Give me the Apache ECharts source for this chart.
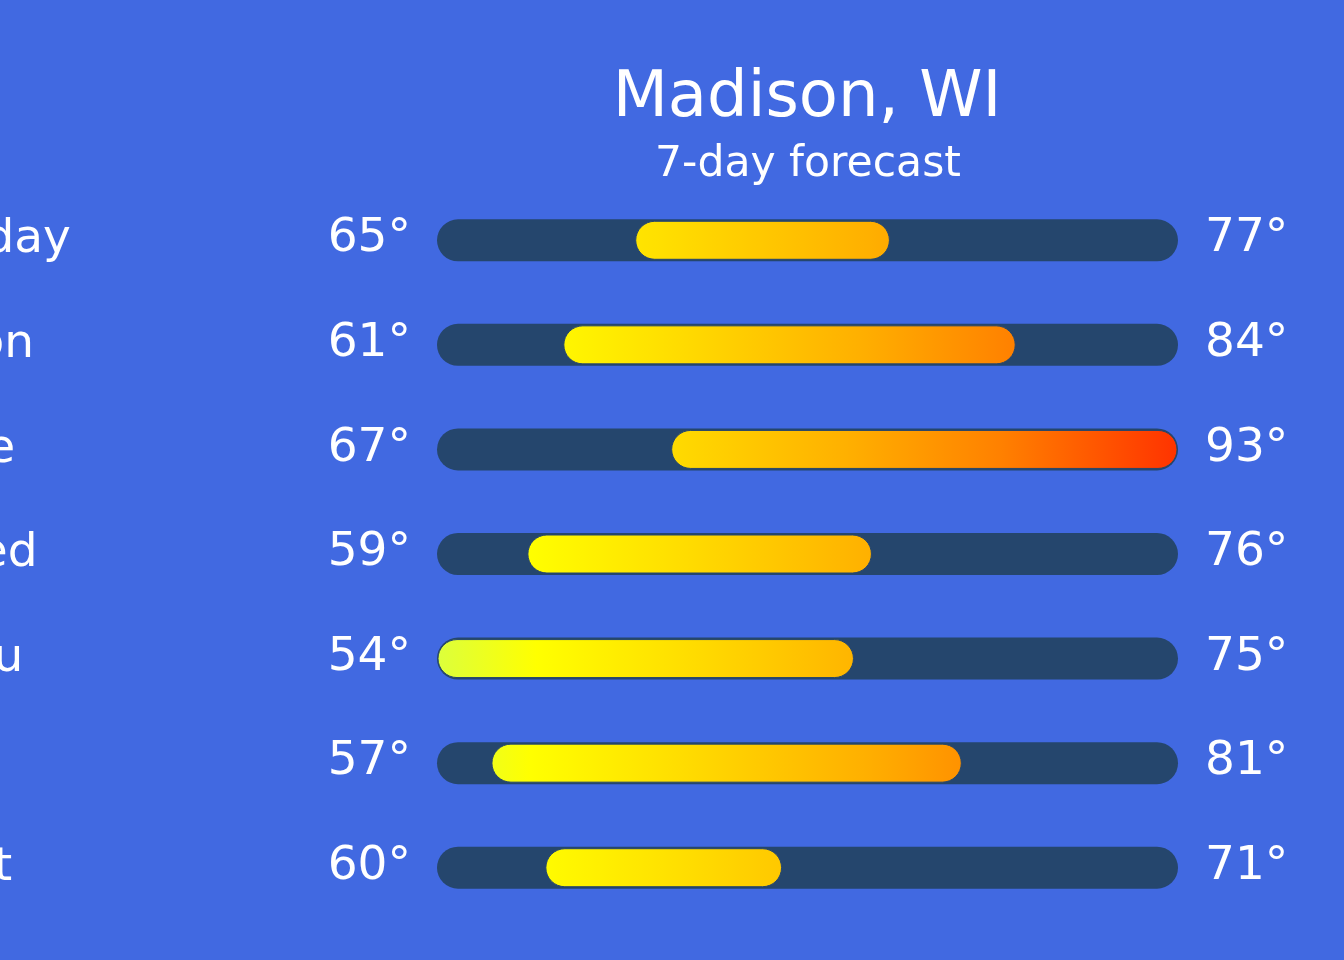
<!DOCTYPE html>
<html>
<head>
<meta charset="utf-8">
<script src="https://cdn.jsdelivr.net/npm/echarts@6/dist/echarts.min.js"></script>
<style>
  html, body { margin: 0; padding: 0; background: #4169E1; }
  #chart { width: 1344px; height: 960px; }
</style>
</head>
<body>
<div id="chart"></div>
<script>
// ---- data ----
const days = ['Today', 'Mon', 'Tue', 'Wed', 'Thu', 'Fri', 'Sat'];
const lows = [65, 61, 67, 59, 54, 57, 60];
const highs = [77, 84, 93, 76, 75, 81, 71];
const titleText = 'Madison, WI';
const subtitleText = '7-day forecast';

// colour scale (temperature -> colour)
const colorTemps = [54, 59, 66, 76, 84, 93];
const colorValues = ['#dcff3c', '#ffff00', '#ffe000', '#ffb000', '#ff8000', '#ff3300'];

const scaleMin = Math.min(...lows);
const scaleMax = Math.max(...highs);

function hexToRgb(h) {
  return [parseInt(h.slice(1, 3), 16), parseInt(h.slice(3, 5), 16), parseInt(h.slice(5, 7), 16)];
}
function colorAt(t) {
  if (t <= colorTemps[0]) return colorValues[0];
  for (let k = 1; k < colorTemps.length; k++) {
    if (t <= colorTemps[k]) {
      const f = (t - colorTemps[k - 1]) / (colorTemps[k] - colorTemps[k - 1]);
      const a = hexToRgb(colorValues[k - 1]), b = hexToRgb(colorValues[k]);
      const c = a.map((v, j) => Math.round(v + (b[j] - v) * f));
      return 'rgb(' + c.join(',') + ')';
    }
  }
  return colorValues[colorValues.length - 1];
}
function barGradient(lo, hi) {
  const stops = [{ offset: 0, color: colorAt(lo) }];
  colorTemps.forEach(t => {
    if (t > lo && t < hi) stops.push({ offset: (t - lo) / (hi - lo), color: colorAt(t) });
  });
  stops.push({ offset: 1, color: colorAt(hi) });
  return { type: 'linear', x: 0, y: 0, x2: 1, y2: 0, colorStops: stops };
}

const rows = days.map((d, i) => [i, lows[i], highs[i]]);

const FONT = 'DejaVu Sans';
const TRACK = '#25466d';

const chart = echarts.init(document.getElementById('chart'), null, { renderer: 'canvas' });
chart.setOption({
  backgroundColor: '#4169E1',
  animation: false,
  grid: { left: 457, right: 186, top: 188, bottom: 40, containLabel: false, outerBoundsMode: 'none' },
  xAxis: { type: 'value', min: scaleMin, max: scaleMax, show: false },
  yAxis: {
    type: 'category',
    data: days,
    inverse: true,
    axisLine: { show: false },
    axisTick: { show: false },
    splitLine: { show: false },
    axisLabel: {
      align: 'left',
      margin: 522,
      fontSize: 47,
      fontFamily: FONT,
      color: '#ffffff',
      padding: [0, 0, 2, 0]
    }
  },
  graphic: [
    { type: 'text', x: 807, y: 99, style: { text: titleText, fill: '#ffffff', fontSize: 64, fontFamily: FONT, align: 'center', verticalAlign: 'middle' } },
    { type: 'text', x: 808, y: 165, style: { text: subtitleText, fill: '#ffffff', fontSize: 42.5, fontFamily: FONT, align: 'center', verticalAlign: 'middle' } }
  ],
  series: [{
    type: 'custom',
    data: rows,
    encode: { x: [1, 2], y: 0 },
    renderItem: function (params, api) {
      const i = api.value(0), lo = api.value(1), hi = api.value(2);
      const pLo = api.coord([lo, i]);
      const pHi = api.coord([hi, i]);
      const pMin = api.coord([scaleMin, i]);
      const pMax = api.coord([scaleMax, i]);
      const cy = pLo[1];
      return {
        type: 'group',
        children: [
          { type: 'rect', shape: { x: pMin[0] - 20, y: cy - 21, width: pMax[0] - pMin[0] + 40, height: 42, r: 21 }, style: { fill: TRACK } },
          { type: 'rect', shape: { x: pLo[0] - 19, y: cy - 19, width: pHi[0] - pLo[0] + 38, height: 38, r: 19 }, style: { fill: barGradient(lo, hi), stroke: TRACK, lineWidth: 1 } },
          { type: 'text', x: pMin[0] - 46, y: cy - 1, style: { text: lo + '°', fill: '#ffffff', fontSize: 47, fontFamily: FONT, align: 'right', verticalAlign: 'middle' } },
          { type: 'text', x: pMax[0] + 47, y: cy - 1, style: { text: hi + '°', fill: '#ffffff', fontSize: 47, fontFamily: FONT, align: 'left', verticalAlign: 'middle' } }
        ]
      };
    }
  }]
});
</script>
</body>
</html>
